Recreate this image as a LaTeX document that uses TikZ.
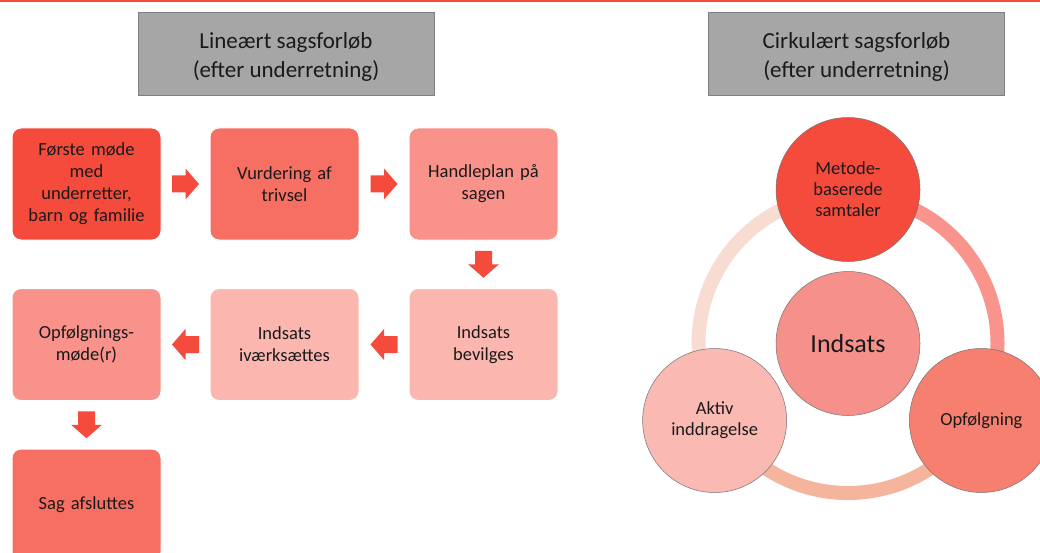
\documentclass[tikz,border=0pt]{standalone}
\usepackage{fontspec}
\setmainfont{Carlito}
\usetikzlibrary{calc}
\definecolor{cRed}{HTML}{F54B3D}
\definecolor{cBox2}{HTML}{F76F62}
\definecolor{cBox3}{HTML}{F8928A}
\definecolor{cBox4}{HTML}{FBB6AF}
\definecolor{cCenter}{HTML}{F5908A}
\definecolor{cRight}{HTML}{F67F70}
\definecolor{cLeft}{HTML}{FAB9B2}
\definecolor{ringA}{HTML}{F8948C}
\definecolor{ringB}{HTML}{F4B59C}
\definecolor{ringC}{HTML}{F8DCD2}
\definecolor{hdrFill}{HTML}{A6A6A6}
\definecolor{hdrBorder}{HTML}{7F7F7F}
\definecolor{txt}{HTML}{1A1A1A}
\tikzset{
  header/.style={draw=hdrBorder, fill=hdrFill, line width=0.8pt, minimum width=296pt, minimum height=83pt, inner sep=0pt},
  headertext/.style={align=center, inner sep=0pt, font=\fontsize{23}{29.5}\selectfont, text=txt},
  stepbox/.style={rounded corners=9pt, draw=white, line width=1pt, minimum width=149pt, minimum height=112pt, align=center, text width=135pt, inner sep=0pt, font=\fontsize{18.5}{22}\selectfont, text=txt},
  ringnode/.style={circle, draw=black!55, line width=0.5pt, minimum size=144pt, inner sep=0pt, align=center, font=\fontsize{18.5}{21}\selectfont, text=txt},
  ringarc/.style={line width=14pt},
  blockarrow/.pic={\fill[cRed] (-13.5,-8.5) -- (0,-8.5) -- (0,-15.5) -- (13.5,0) -- (0,15.5) -- (0,8.5) -- (-13.5,8.5) -- cycle;}
}
\begin{document}
\begin{tikzpicture}[x=1pt,y=-1pt]
\useasboundingbox (0,0) rectangle (1040,553);
\fill[white] (0,0) rectangle (1040,553);
\fill[cRed] (0,0) rectangle (1040,1.6);

% headers
\node[header] (h1) at (286,53.5) {};
\node[headertext] (h1t) at (286,57) {Lineært sagsforløb\\(efter underretning)};
\node[header] (h2) at (856.5,53.5) {};
\node[headertext] (h2t) at (856.5,57) {Cirkulært sagsforløb\\(efter underretning)};

% linear flow
\node[stepbox, fill=cRed] (b1) at (86.5,184) {Første møde\\med\\underretter,\\barn og familie};
\node[stepbox, fill=cBox2] (b2) at (284.5,184) {Vurdering af\\trivsel};
\node[stepbox, fill=cBox3] (b3) at (483.5,184) {Handleplan på\\sagen};
\node[stepbox, fill=cBox4] (b6) at (483.5,344.5) {Indsats\\bevilges};
\node[stepbox, fill=cBox4] (b5) at (284.5,344.5) {Indsats\\iværksættes};
\node[stepbox, fill=cBox3] (b4) at (86.5,344.5) {Opfølgnings-\\møde(r)};
\node[stepbox, fill=cBox2] (b7) at (86.5,505) {Sag afsluttes};

\path ($(b1.east)!0.5!(b2.west)$) pic {blockarrow};
\path ($(b2.east)!0.5!(b3.west)$) pic {blockarrow};
\path ($(b3.south)!0.5!(b6.north)$) pic[rotate=-90] {blockarrow};
\path ($(b6.west)!0.5!(b5.east)$) pic[rotate=180] {blockarrow};
\path ($(b5.west)!0.5!(b4.east)$) pic[rotate=180] {blockarrow};
\path ($(b4.south)!0.5!(b7.north)$) pic[rotate=-90] {blockarrow};

% circular flow
\coordinate (rc) at (848,343.5);
\draw[ringarc, ringA] ($(rc)+(-90:149.5)$) arc[start angle=-90, end angle=30, radius=149.5];
\draw[ringarc, ringB] ($(rc)+(30:149.5)$) arc[start angle=30, end angle=150, radius=149.5];
\draw[ringarc, ringC] ($(rc)+(150:149.5)$) arc[start angle=150, end angle=270, radius=149.5];

\node[ringnode, fill=cCenter, font=\fontsize{26}{30}\selectfont] (cc) at (rc) {Indsats};
\node[ringnode, fill=cRed] (ct) at ($(rc)+(-90:154)$) {Metode-\\baserede\\samtaler};
\node[ringnode, fill=cRight] (cr) at ($(rc)+(30:154)$) {Opfølgning};
\node[ringnode, fill=cLeft] (cl) at ($(rc)+(150:154)$) {Aktiv\\inddragelse};
\end{tikzpicture}
\end{document}
